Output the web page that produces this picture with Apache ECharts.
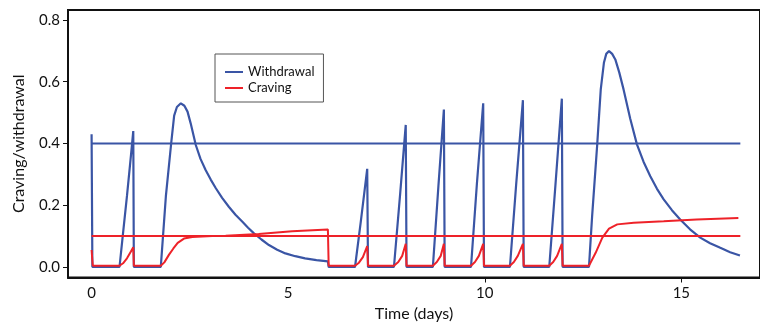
<!DOCTYPE html>
<html>
<head>
<meta charset="utf-8">
<script src="https://cdn.jsdelivr.net/npm/echarts@6/dist/echarts.min.js"></script>
<style>
  html, body { margin: 0; padding: 0; background: #fff; }
  #chart { width: 760px; height: 331px; }
</style>
</head>
<body>
<div id="chart"></div>
<script>
// [time (days), level]
const withdrawal = [
  [0, 0.43], [0.02, 0.0], [0.71, 0.0], [0.8, 0.11], [0.9, 0.23], [1.0, 0.36], [1.06, 0.44], [1.075, 0.0],
  [1.76, 0.0], [1.89, 0.23], [2.02, 0.395], [2.10, 0.49], [2.17, 0.518], [2.27, 0.53], [2.36, 0.522],
  [2.44, 0.503], [2.52, 0.465], [2.65, 0.395], [2.77, 0.35], [2.9, 0.314], [3.03, 0.283], [3.16, 0.255],
  [3.32, 0.224], [3.49, 0.195], [3.66, 0.169], [3.83, 0.147], [3.98, 0.127], [4.13, 0.109], [4.32, 0.089],
  [4.51, 0.071], [4.72, 0.056], [4.93, 0.044], [5.18, 0.035], [5.43, 0.028], [5.72, 0.022], [6.01, 0.018], [6.03, 0.0],
  [6.70, 0.0], [6.85, 0.15], [7.01, 0.318], [7.03, 0.0],
  [7.69, 0.0], [7.85, 0.24], [7.99, 0.46], [8.01, 0.0],
  [8.68, 0.0], [8.82, 0.26], [8.96, 0.51], [8.98, 0.0],
  [9.65, 0.0], [9.80, 0.27], [9.96, 0.53], [9.98, 0.0],
  [10.64, 0.0], [10.80, 0.27], [10.97, 0.54], [10.99, 0.0],
  [11.64, 0.0], [11.80, 0.27], [11.96, 0.545], [11.98, 0.0],
  [12.65, 0.0], [12.73, 0.164], [12.86, 0.397], [12.95, 0.575], [13.03, 0.661], [13.09, 0.69],
  [13.16, 0.699], [13.24, 0.69], [13.32, 0.672], [13.42, 0.63], [13.53, 0.575], [13.7, 0.48],
  [13.87, 0.397], [14.04, 0.34], [14.21, 0.294], [14.38, 0.253], [14.55, 0.219], [14.76, 0.184],
  [14.97, 0.154], [15.22, 0.122], [15.48, 0.095], [15.73, 0.077], [15.99, 0.062], [16.24, 0.048],
  [16.49, 0.037]
];

const craving = [
  [0, 0.055], [0.03, 0.004], [0.71, 0.004], [0.8, 0.012], [0.9, 0.028], [1.0, 0.05], [1.06, 0.064], [1.075, 0.004],
  [1.76, 0.004], [1.85, 0.015], [1.97, 0.04], [2.08, 0.06], [2.19, 0.078], [2.35, 0.092], [2.56, 0.097],
  [3.07, 0.1], [3.41, 0.101], [4.25, 0.107], [5.1, 0.116], [6.01, 0.121], [6.03, 0.004],
  [6.70, 0.004], [6.80, 0.014], [6.90, 0.032], [7.01, 0.068], [7.03, 0.004],
  [7.69, 0.004], [7.80, 0.016], [7.90, 0.036], [7.99, 0.075], [8.01, 0.004],
  [8.68, 0.004], [8.78, 0.016], [8.88, 0.036], [8.96, 0.075], [8.98, 0.004],
  [9.65, 0.004], [9.75, 0.016], [9.85, 0.036], [9.96, 0.075], [9.98, 0.004],
  [10.64, 0.004], [10.74, 0.016], [10.84, 0.036], [10.97, 0.075], [10.99, 0.004],
  [11.64, 0.004], [11.74, 0.016], [11.84, 0.036], [11.96, 0.075], [11.98, 0.004],
  [12.65, 0.004], [12.82, 0.046], [12.99, 0.095], [13.16, 0.124], [13.37, 0.138], [13.79, 0.143],
  [14.55, 0.148], [15.39, 0.154], [16.45, 0.159]
];

// threshold levels drawn as flat lines
const withdrawalThreshold = [[0, 0.4], [16.5, 0.4]];
const cravingThreshold = [[0, 0.1], [16.5, 0.1]];

const xTicks = [10, 15];
const xLabels = [0, 5, 10, 15];
const yTicks = [0, 0.2, 0.4, 0.6, 0.8];

const BLUE = '#3a55a5';
const RED = '#ee2229';
const FONT = 'Lato';

const chart = echarts.init(document.getElementById('chart'), null, { renderer: 'canvas' });

const flat = (name, data, color) => ({
  name, type: 'line', data, symbol: 'none', silent: true,
  lineStyle: { color, width: 2 }, itemStyle: { color }
});

chart.setOption({
  animation: false,
  textStyle: { fontFamily: FONT },
  grid: {
    left: 68, right: -2, top: 10, bottom: 53.5,
    show: true, borderColor: '#111', borderWidth: 2
  },
  legend: {
    data: ['Withdrawal', 'Craving'],
    orient: 'vertical',
    left: 215, top: 54,
    icon: 'rect', itemWidth: 18, itemHeight: 2, itemGap: 0,
    padding: [10, 9, 6, 10],
    borderColor: '#555', borderWidth: 1,
    selectedMode: false,
    textStyle: { fontFamily: FONT, fontSize: 13, lineHeight: 16, color: '#111' }
  },
  xAxis: {
    type: 'value', min: -0.6, max: 17,
    name: 'Time (days)', nameLocation: 'middle', nameGap: 28,
    nameTextStyle: { fontFamily: FONT, fontSize: 16, color: '#111' },
    axisLine: { onZero: false, lineStyle: { color: '#111', width: 2 } },
    axisTick: { show: true, length: 5, customValues: xTicks, lineStyle: { color: '#111' } },
    axisLabel: { customValues: xLabels, margin: 8, fontFamily: FONT, fontSize: 15, color: '#111' },
    splitLine: { show: false }
  },
  yAxis: {
    type: 'value', min: -0.034, max: 0.832,
    name: 'Craving/withdrawal', nameLocation: 'middle', nameGap: 41,
    nameTextStyle: { fontFamily: FONT, fontSize: 16, color: '#111' },
    axisLine: { show: true, onZero: false, lineStyle: { color: '#111', width: 2 } },
    axisTick: { show: true, length: 5, customValues: yTicks, lineStyle: { color: '#111' } },
    axisLabel: {
      customValues: yTicks, margin: 8, fontFamily: FONT, fontSize: 15, color: '#111',
      formatter: (v) => v.toFixed(1)
    },
    splitLine: { show: false }
  },
  series: [
    flat('withdrawal threshold', withdrawalThreshold, BLUE),
    {
      name: 'Withdrawal', type: 'line', data: withdrawal, symbol: 'none',
      lineStyle: { color: BLUE, width: 2.2 }, itemStyle: { color: BLUE }
    },
    flat('craving threshold', cravingThreshold, RED),
    {
      name: 'Craving', type: 'line', data: craving, symbol: 'none',
      lineStyle: { color: RED, width: 2 }, itemStyle: { color: RED }
    }
  ]
});
</script>
</body>
</html>
